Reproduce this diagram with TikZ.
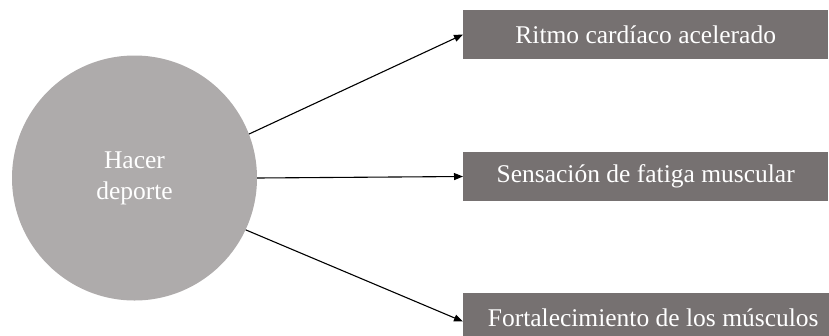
\documentclass[tikz,border=0pt]{standalone}
\usepackage{fontspec}
\setmainfont{Liberation Serif}
\usetikzlibrary{arrows.meta}
\definecolor{circlegray}{HTML}{AEABAB}
\definecolor{boxgray}{HTML}{767171}
\begin{document}
\begin{tikzpicture}[x=1pt,y=-1pt,
  txt/.style={font=\fontsize{25.5}{31}\selectfont, text=white},
  effect/.style={txt, fill=boxgray, minimum height=49pt, inner sep=0pt, anchor=west},
  link/.style={draw=black, line width=1.1pt, -{Triangle[length=9pt,width=7pt]}}]
  \useasboundingbox (0,0) rectangle (829,335);
  % cause
  \node[circle, fill=circlegray, minimum size=245pt, inner sep=0pt,
        txt, align=center] (c) at (134.5,178) {Hacer\\deporte};
  % effects
  \node[effect, minimum width=365pt] (b1) at (463,34.5) {Ritmo cardíaco acelerado};
  \node[effect, minimum width=365pt] (b2) at (463,176.5) {Sensación de fatiga muscular};
  \node[effect, minimum width=380pt] (b3) at (463,317.5) {Fortalecimiento de los músculos};
  % connectors
  \draw[link] (c.21) -- (b1.west);
  \draw[link] (c.0) -- (b2.west);
  \draw[link] (c.-25) -- ([yshift=-4pt]b3.west);
\end{tikzpicture}
\end{document}
